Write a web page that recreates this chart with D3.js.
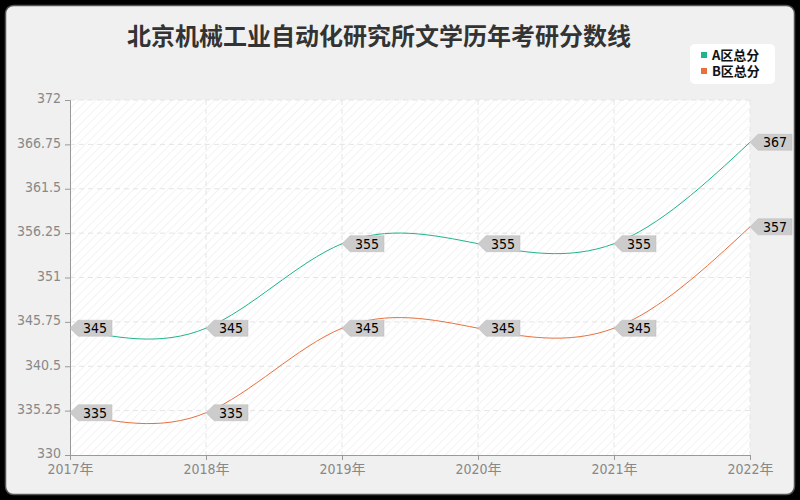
<!DOCTYPE html>
<html>
<head>
<meta charset="utf-8">
<script src="https://cdn.jsdelivr.net/npm/d3@7"></script>
<style>
  html, body { margin: 0; padding: 0; background: #000; }
  svg { display: block; }
</style>
</head>
<body>
<svg width="800" height="500"></svg>
<script>
// 数据
const years = ['2017年', '2018年', '2019年', '2020年', '2021年', '2022年'];
const seriesA = [345, 345, 355, 355, 355, 367];
const seriesB = [335, 335, 345, 345, 345, 357];
const seriesNames = ['A区总分', 'B区总分'];
const yTicks = [330, 335.25, 340.5, 345.75, 351, 356.25, 361.5, 366.75, 372];
const colors = ['#20b48c', '#e8703d'];

const svg = d3.select('svg');
const m = { left: 70, right: 750, top: 100, bottom: 455 };

// 背景卡片
svg.append('rect').attr('x', 5.5).attr('y', 5.5).attr('width', 789).attr('height', 489)
    .attr('rx', 8).attr('fill', '#f0f0f0').attr('stroke', '#555').attr('stroke-width', 1.5);

// 斜线纹理
const defs = svg.append('defs');
const pat = defs.append('pattern').attr('id', 'hatch').attr('width', 6).attr('height', 6)
    .attr('patternUnits', 'userSpaceOnUse').attr('patternTransform', 'rotate(45)');
pat.append('rect').attr('width', 6).attr('height', 6).attr('fill', '#fff');
pat.append('line').attr('x1', 0).attr('y1', 0).attr('x2', 0).attr('y2', 6)
    .attr('stroke', '#f0f0f0').attr('stroke-width', 1.5);

svg.append('rect').attr('x', m.left).attr('y', m.top)
    .attr('width', m.right - m.left).attr('height', m.bottom - m.top).attr('fill', 'url(#hatch)');

const xScale = d3.scalePoint().domain(years).range([m.left, m.right]);
const yScale = d3.scaleLinear().domain([330, 372]).range([m.bottom, m.top]);

// 网格线
svg.append('g').selectAll('line').data(yTicks.slice(1)).join('line')
    .attr('x1', m.left).attr('x2', m.right)
    .attr('y1', d => yScale(d)).attr('y2', d => yScale(d))
    .attr('stroke', '#e4e4e4').attr('stroke-dasharray', '5,4');
svg.append('g').selectAll('line').data(years.slice(1)).join('line')
    .attr('x1', d => xScale(d)).attr('x2', d => xScale(d))
    .attr('y1', m.top).attr('y2', m.bottom)
    .attr('stroke', '#e4e4e4').attr('stroke-dasharray', '5,4');

// 坐标轴
const font = '"DejaVu Sans Condensed", "DejaVu Sans", "Noto Sans CJK SC", sans-serif';
const xAxis = d3.axisBottom(xScale).tickSize(5).tickPadding(4);
const yAxis = d3.axisLeft(yScale).tickValues(yTicks).tickSize(5).tickPadding(4)
    .tickFormat(d => d);
const xg = svg.append('g').attr('transform', `translate(0, ${m.bottom})`).call(xAxis);
const yg = svg.append('g').attr('transform', `translate(${m.left}, 0)`).call(yAxis);
[xg, yg].forEach(g => {
    g.select('.domain').attr('stroke', '#999');
    g.selectAll('.tick line').attr('stroke', '#999');
    g.selectAll('.tick text').attr('fill', '#888').style('font-size', '14px').style('font-family', font);
});
yg.selectAll('.tick text').attr('dy', '0.2em');

// 折线
const line = d3.line().x((d, i) => xScale(years[i])).y(d => yScale(d)).curve(d3.curveNatural);
[seriesA, seriesB].forEach((s, k) => {
    svg.append('path').datum(s).attr('d', line).attr('fill', 'none')
        .attr('stroke', colors[k]).attr('stroke-width', 1);
});

// 数据标签
[seriesA, seriesB].forEach(s => {
    const g = svg.append('g').selectAll('g').data(s).join('g')
        .attr('transform', (d, i) => `translate(${xScale(years[i])}, ${yScale(d)})`);
    g.append('path')
        .attr('d', 'M0,0 L8,-8 L42,-8 L42,8 L8,8 Z')
        .attr('fill', '#cccccc').attr('stroke', '#bbb').attr('stroke-width', 0.5);
    g.append('text').attr('x', 25).attr('y', 5).attr('text-anchor', 'middle')
        .style('font-size', '14px').style('font-family', font).attr('fill', '#000')
        .text(d => d);
});

// 标题
svg.append('text').attr('x', 379).attr('y', 45).attr('text-anchor', 'middle')
    .style('font-size', '24px').style('font-weight', 'bold')
    .style('font-family', '"Noto Sans CJK SC", sans-serif').attr('fill', '#333')
    .text('北京机械工业自动化研究所文学历年考研分数线');

// 图例
svg.append('rect').attr('x', 690).attr('y', 44).attr('width', 85).attr('height', 40)
    .attr('rx', 5).attr('fill', '#fff');
seriesNames.forEach((n, k) => {
    svg.append('rect').attr('x', 701).attr('y', 52 + k * 16).attr('width', 6).attr('height', 6)
        .attr('fill', colors[k]);
    svg.append('text').attr('x', 712).attr('y', 60 + k * 16)
        .style('font-size', '13px').style('font-weight', 'bold')
        .style('font-family', '"Noto Sans CJK SC", sans-serif')
        .attr('fill', '#111').text(n);
});
</script>
</body>
</html>
